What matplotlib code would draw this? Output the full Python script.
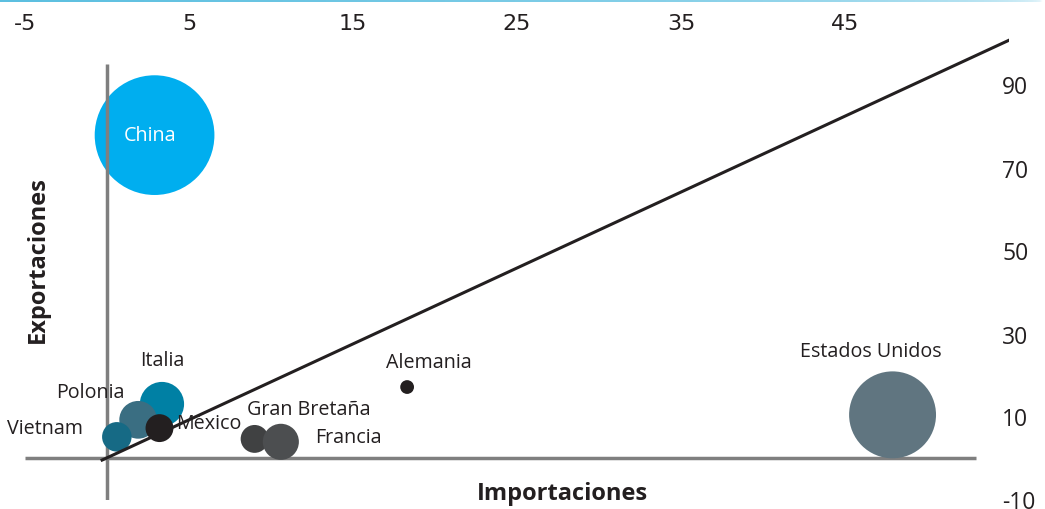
import numpy as np
import matplotlib
matplotlib.use("Agg")
import matplotlib.pyplot as plt
from matplotlib.patches import Ellipse

# data
countries = ["China", "Italia", "Polonia", "Vietnam", "México",
             "Gran Bretaña", "Francia", "Alemania", "Estados Unidos"]
importaciones = [2.9, 3.35, 1.9, 0.6, 3.2, 9.0, 10.6, 18.3, 47.9]
exportaciones = [77.8, 13.0, 9.2, 5.1, 7.2, 4.6, 3.9, 17.1, 10.4]
bubble_radius = [3.65, 1.35, 1.15, 0.9, 0.85, 0.85, 1.1, 0.42, 2.65]  # in x units
colors = ["#00AEEF", "#0080A4", "#3A6E82", "#166A85", "#231F20",
          "#404142", "#4C4E50", "#231F20", "#607580"]

x_ticks = [-5, 5, 15, 25, 35, 45]
y_ticks = [-10, 10, 30, 50, 70, 90]
diag_x = [-0.3, 55.4]
diag_y = [-0.5, 101.4]

# label offsets (text anchor relative to bubble centre, data units)
label_pos = {
    "China": (-0.3, 0.0, "center", "white"),
    "Italia": (0.0, 10.5, "center", "#231F20"),
    "Polonia": (-2.9, 6.7, "center", "#231F20"),
    "Vietnam": (-4.4, 2.2, "center", "#231F20"),
    "México": (1.0, 1.2, "left", "#231F20"),
    "Gran Bretaña": (3.3, 7.3, "center", "#231F20"),
    "Francia": (4.1, 1.2, "center", "#231F20"),
    "Alemania": (1.3, 6.1, "center", "#231F20"),
    "Estados Unidos": (-1.3, 15.4, "center", "#231F20"),
}

W, H = 1045, 510
fig = plt.figure(figsize=(W / 100, H / 100), dpi=100)
ax = fig.add_axes([25 / W, 9.5 / H, 984 / W, 498 / H])
ax.set_xlim(-5, 55)
ax.set_ylim(-10, 110)

for s in ax.spines.values():
    s.set_visible(False)

# keep circles round in pixels
sx = 984 / 60.0
sy = 498 / 120.0
for i, name in enumerate(countries):
    r = bubble_radius[i]
    z = 1 if name == "China" else 4
    e = Ellipse((importaciones[i], exportaciones[i]), 2 * r, 2 * r * sx / sy,
                facecolor=colors[i], edgecolor="none", zorder=z)
    ax.add_patch(e)
    dx, dy, ha, c = label_pos[name]
    ax.text(importaciones[i] + dx, exportaciones[i] + dy, name, ha=ha, va="center",
            fontsize=14.2, color=c, family="Open Sans", zorder=6)

# axis cross lines
ax.hlines(0, -5, 53, color="#7F7F7F", lw=2.5, zorder=2)
ax.vlines(0, -10.5, 95, color="#7F7F7F", lw=2.5, zorder=2)
ax.plot(diag_x, diag_y, color="#231F20", lw=2.2, zorder=5)

ax.xaxis.tick_top()
ax.set_xticks(x_ticks)
ax.set_xticklabels([str(v) for v in x_ticks], family="DejaVu Sans",
                   fontsize=16, color="#231F20")
ax.tick_params(axis="x", length=0, pad=-23)
ax.yaxis.tick_right()
ax.set_yticks(y_ticks)
ax.set_yticklabels([str(v) for v in y_ticks], family="Open Sans", fontsize=16.5, color="#231F20")
ax.tick_params(axis="y", length=0, pad=-5)

fig.text(562 / W, 1 - 494 / H, "Importaciones", ha="center", va="center",
         fontsize=17, fontweight="bold", family="Open Sans", color="#231F20")
fig.text(38 / W, 1 - 260 / H, "Exportaciones", ha="center", va="center", rotation=90,
         fontsize=17, fontweight="bold", family="Open Sans", color="#231F20")

# thin fading blue border at top
bar = fig.add_axes([0, 1 - 2.5 / H, 1, 2.5 / H])
grad = np.zeros((1, 256, 4))
grad[..., 0] = 0.36
grad[..., 1] = 0.75
grad[..., 2] = 0.88
grad[..., 3] = np.linspace(1, 0, 256) ** 0.3
bar.imshow(grad, aspect="auto", extent=[0, 1, 0, 1])
bar.axis("off")

fig.savefig("out.png", dpi=100)
